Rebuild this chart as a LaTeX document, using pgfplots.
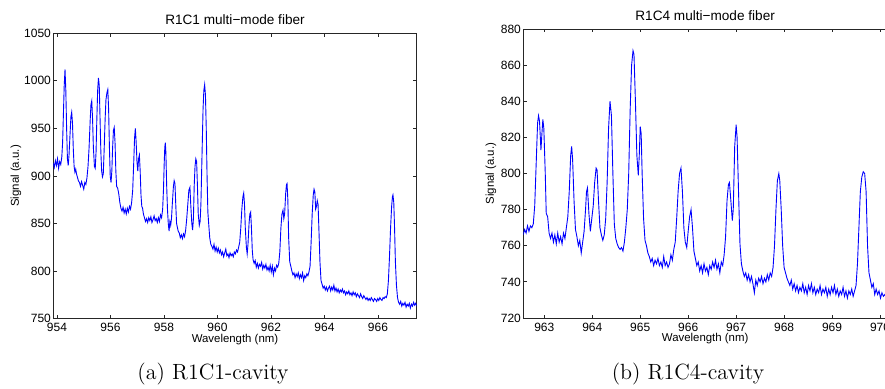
\documentclass[border=0pt]{standalone}
\usepackage{pgfplots}
\usepackage{pgfplotstable}
\pgfplotsset{compat=1.18}
\usepackage{fontspec}
\newfontfamily\arial{Liberation Sans}

\pgfplotstableread{
x y
953.86 914
953.90 909
953.94 916
953.98 911
954.02 918
954.06 908
954.10 915
954.14 912
954.18 920
954.21 935
954.24 965
954.27 995
954.30 1012
954.33 990
954.36 950
954.39 918
954.42 911
954.45 922
954.49 945
954.52 962
954.55 967
954.58 955
954.61 928
954.64 910
954.67 904
954.70 907
954.73 902
954.76 899
954.80 895
954.84 893
954.88 889
954.92 894
954.96 890
955.00 886
955.04 893
955.08 891
955.12 898
955.16 910
955.20 930
955.24 958
955.27 975
955.30 979
955.33 960
955.36 930
955.40 910
955.43 908
955.46 925
955.49 960
955.52 990
955.55 1003
955.58 995
955.61 960
955.64 925
955.67 905
955.70 899
955.73 902
955.76 925
955.80 960
955.83 980
955.87 988
955.90 991
955.93 970
955.96 930
955.99 900
956.02 893
956.05 905
956.08 930
956.11 948
956.14 951
956.17 935
956.20 905
956.23 889
956.27 887
956.31 881
956.35 872
956.39 866
956.43 863
956.47 867
956.51 861
956.55 865
956.59 860
956.63 866
956.67 862
956.71 868
956.75 865
956.79 872
956.83 885
956.87 915
956.90 940
956.93 950
956.96 935
956.99 915
957.02 905
957.05 918
957.08 922
957.11 905
957.14 880
957.17 868
957.20 866
957.23 860
957.27 856
957.31 852
957.35 855
957.39 851
957.43 856
957.47 853
957.51 857
957.55 851
957.59 854
957.63 858
957.67 853
957.71 855
957.75 851
957.79 856
957.83 852
957.87 859
957.91 856
957.95 865
957.98 885
958.01 915
958.03 930
958.05 935
958.07 925
958.10 890
958.13 865
958.16 850
958.19 842
958.22 852
958.25 848
958.28 855
958.31 870
958.35 888
958.38 895
958.41 892
958.44 870
958.47 850
958.50 846
958.53 842
958.57 840
958.61 835
958.65 838
958.69 834
958.73 839
958.77 836
958.81 843
958.85 855
958.89 870
958.93 885
958.97 888
959.00 870
959.04 850
959.07 843
959.10 855
959.13 890
959.16 910
959.19 918
959.22 915
959.25 890
959.28 860
959.32 848
959.35 852
959.38 870
959.42 920
959.46 970
959.49 990
959.52 996
959.55 985
959.58 950
959.61 900
959.64 862
959.67 850
959.71 835
959.75 828
959.79 826
959.83 823
959.87 828
959.91 821
959.95 825
959.99 820
960.03 824
960.07 819
960.11 822
960.15 817
960.19 820
960.23 815
960.27 819
960.31 823
960.35 816
960.39 818
960.43 814
960.47 819
960.51 816
960.55 818
960.59 815
960.63 820
960.67 818
960.71 822
960.75 820
960.79 825
960.83 830
960.87 845
960.91 865
960.95 878
960.98 882
961.01 870
961.04 845
961.08 825
961.11 818
961.14 828
961.18 850
961.21 860
961.24 862
961.27 845
961.30 822
961.33 812
961.37 808
961.41 811
961.45 804
961.49 808
961.53 803
961.57 807
961.61 805
961.65 809
961.69 802
961.73 806
961.77 803
961.81 807
961.85 801
961.89 804
961.93 800
961.97 806
962.01 799
962.05 805
962.09 796
962.13 803
962.17 800
962.21 806
962.25 804
962.29 808
962.33 820
962.37 845
962.41 860
962.45 864
962.48 855
962.51 860
962.55 882
962.58 891
962.60 892
962.63 875
962.66 835
962.70 810
962.74 805
962.78 800
962.82 796
962.86 798
962.90 793
962.94 797
962.98 794
963.02 798
963.06 792
963.10 796
963.14 793
963.18 798
963.22 790
963.26 795
963.30 793
963.34 797
963.38 795
963.42 799
963.46 805
963.50 830
963.54 860
963.58 880
963.61 886
963.64 883
963.67 865
963.70 868
963.73 874
963.76 870
963.79 845
963.83 810
963.87 790
963.91 786
963.95 782
963.99 784
964.03 780
964.07 783
964.11 779
964.15 782
964.19 784
964.23 779
964.27 783
964.31 780
964.35 785
964.39 779
964.43 782
964.47 778
964.51 781
964.55 777
964.59 780
964.63 778
964.67 781
964.71 777
964.75 779
964.79 775
964.83 778
964.87 776
964.91 779
964.95 775
964.99 777
965.03 774
965.07 778
965.11 775
965.15 777
965.19 773
965.23 776
965.27 774
965.31 772
965.35 776
965.39 773
965.43 771
965.47 774
965.51 772
965.55 770
965.59 772
965.63 769
965.67 771
965.71 769
965.75 772
965.79 770
965.83 768
965.87 771
965.91 770
965.95 768
965.99 771
966.03 769
966.07 772
966.11 770
966.15 769
966.19 772
966.23 771
966.27 773
966.31 772
966.35 776
966.39 790
966.43 815
966.47 845
966.51 868
966.54 878
966.56 880
966.59 872
966.62 845
966.65 810
966.69 785
966.73 772
966.77 767
966.81 765
966.85 768
966.89 763
966.93 766
966.97 764
967.01 767
967.05 762
967.09 765
967.13 763
967.17 766
967.21 761
967.25 765
967.29 763
967.33 767
967.37 764
967.41 766
967.45 763
}\leftdata

\pgfplotstableread{
x y
962.56 766
962.59 769
962.62 767
962.65 771
962.68 768
962.71 771
962.74 770
962.77 772
962.80 782
962.83 805
962.86 828
962.88 832
962.90 829
962.93 813
962.95 822
962.97 830
962.99 825
963.02 800
963.04 778
963.07 776
963.10 767
963.13 764
963.16 767
963.19 762
963.22 766
963.25 761
963.28 767
963.31 762
963.34 765
963.37 761
963.40 767
963.43 764
963.46 770
963.49 776
963.52 790
963.55 810
963.57 815
963.59 808
963.62 785
963.65 769
963.68 765
963.71 760
963.74 763
963.77 756
963.80 762
963.83 768
963.86 780
963.88 790
963.90 792
963.93 778
963.96 768
963.99 775
964.02 782
964.05 795
964.08 803
964.10 802
964.13 785
964.16 770
964.19 766
964.22 763
964.25 766
964.28 775
964.31 795
964.34 825
964.37 840
964.40 832
964.43 800
964.46 772
964.49 764
964.52 761
964.55 759
964.58 758
964.61 759
964.64 757
964.67 762
964.70 770
964.73 780
964.76 800
964.79 835
964.82 860
964.85 868
964.87 866
964.90 840
964.93 810
964.96 799
964.98 810
965.00 826
965.02 822
965.04 800
965.07 775
965.10 763
965.13 760
965.16 756
965.19 754
965.22 751
965.25 753
965.28 749
965.31 752
965.34 750
965.37 753
965.40 749
965.43 751
965.46 748
965.49 754
965.52 749
965.55 751
965.58 748
965.61 750
965.64 755
965.67 752
965.70 758
965.73 762
965.76 775
965.79 790
965.82 800
965.85 803
965.88 790
965.91 770
965.94 762
965.97 759
966.00 768
966.03 776
966.06 780
966.09 770
966.12 757
966.15 753
966.18 749
966.21 751
966.24 746
966.27 749
966.30 745
966.33 750
966.36 746
966.39 748
966.42 744
966.45 749
966.48 747
966.51 751
966.54 748
966.57 752
966.60 747
966.63 750
966.66 745
966.69 751
966.72 749
966.75 755
966.78 765
966.81 785
966.84 794
966.86 795
966.89 785
966.92 774
966.94 780
966.97 815
967.00 827
967.02 820
967.05 790
967.08 761
967.11 750
967.14 746
967.17 743
967.20 745
967.23 741
967.26 744
967.29 740
967.32 743
967.35 739
967.38 734
967.41 741
967.44 738
967.47 742
967.50 740
967.53 743
967.56 739
967.59 742
967.62 740
967.65 744
967.68 741
967.71 745
967.74 743
967.77 748
967.80 760
967.83 780
967.86 796
967.89 800
967.91 796
967.94 780
967.97 760
968.00 748
968.03 745
968.06 742
968.09 740
968.12 738
968.15 741
968.18 736
968.21 739
968.24 735
968.27 738
968.30 734
968.33 737
968.36 735
968.39 739
968.42 734
968.45 737
968.48 733
968.51 738
968.54 735
968.57 739
968.60 734
968.63 737
968.66 733
968.69 736
968.72 734
968.75 738
968.78 733
968.81 736
968.84 734
968.87 737
968.90 732
968.93 736
968.96 733
968.99 737
969.02 734
969.05 738
969.08 733
969.11 736
969.14 732
969.17 735
969.20 733
969.23 737
969.26 732
969.29 735
969.32 731
969.35 735
969.38 733
969.41 736
969.44 732
969.47 735
969.50 738
969.53 750
969.56 770
969.59 790
969.62 798
969.65 801
969.68 800
969.71 790
969.74 760
969.77 745
969.80 741
969.83 737
969.86 739
969.89 733
969.92 736
969.95 733
969.98 735
970.01 731
970.04 734
970.07 732
970.10 733
970.14 731
970.18 734
970.22 732
}\rightdata

\pgfplotsset{
  mstyle/.style={
    scale only axis, anchor=south west,
    axis line style={black!85, line width=0.4pt},
    tick align=inside, major tick length=1.6pt,
    tick style={black!85, line width=0.4pt},
    /pgf/number format/assume math mode=true,
    /pgf/number format/1000 sep={},
    scaled ticks=false,
    xticklabel style={font=\arial\fontsize{6}{7}\selectfont, anchor=base, yshift=-6.6pt, inner sep=0pt},
    yticklabel style={font=\arial\fontsize{6}{7}\selectfont, anchor=east, inner sep=0pt, xshift=-1pt},
    every axis title/.style={font=\arial\fontsize{6.8}{8}\selectfont, at={(0.5,1)}, anchor=base, yshift=4.4pt, inner sep=0pt},
    every axis x label/.style={font=\arial\fontsize{5.7}{7}\selectfont, at={(0.5,0)}, anchor=base, yshift=-11.75pt, inner sep=0pt},
    every axis y label/.style={font=\arial\fontsize{5.7}{7}\selectfont, rotate=90, anchor=base, inner sep=0pt},
  }
}

\begin{document}
\begin{tikzpicture}
\useasboundingbox (0,0) rectangle (442.5pt,194pt);

\begin{axis}[mstyle,
  at={(26.65pt,34.75pt)}, width=181.7pt, height=142.6pt,
  xmin=953.862, xmax=967.447, ymin=750, ymax=1050,
  xtick={954,956,958,960,962,964,966},
  ytick={750,800,850,900,950,1000,1050},
  title={R1C1 multi−mode fiber},
  xlabel={Wavelength (nm)},
  ylabel={Signal (a.u.)},
  ylabel style={at={(axis description cs:-0.0944,0.5)}},
]
\addplot[blue, line width=0.45pt, no marks] table[x=x,y=y] {\leftdata};
\end{axis}

\begin{axis}[mstyle,
  at={(261.65pt,35pt)}, width=183.85pt, height=144.5pt,
  xmin=962.562, xmax=970.229, ymin=720, ymax=880,
  xtick={963,964,965,966,967,968,969,970},
  ytick={720,740,760,780,800,820,840,860,880},
  title={R1C4 multi−mode fiber},
  xlabel={Wavelength (nm)},
  ylabel={Signal (a.u.)},
  ylabel style={at={(axis description cs:-0.0797,0.5)}},
  title style={xshift=-1pt},
  xlabel style={xshift=-1pt},
]
\addplot[blue, line width=0.45pt, no marks] table[x=x,y=y] {\rightdata};
\end{axis}

\node[anchor=base, inner sep=0pt, font=\fontsize{11}{13}\selectfont] at (106.5pt,4.5pt) {(a)~R1C1-cavity};
\node[anchor=base, inner sep=0pt, font=\fontsize{11}{13}\selectfont] at (344pt,4.5pt) {(b)~R1C4-cavity};
\end{tikzpicture}
\end{document}
